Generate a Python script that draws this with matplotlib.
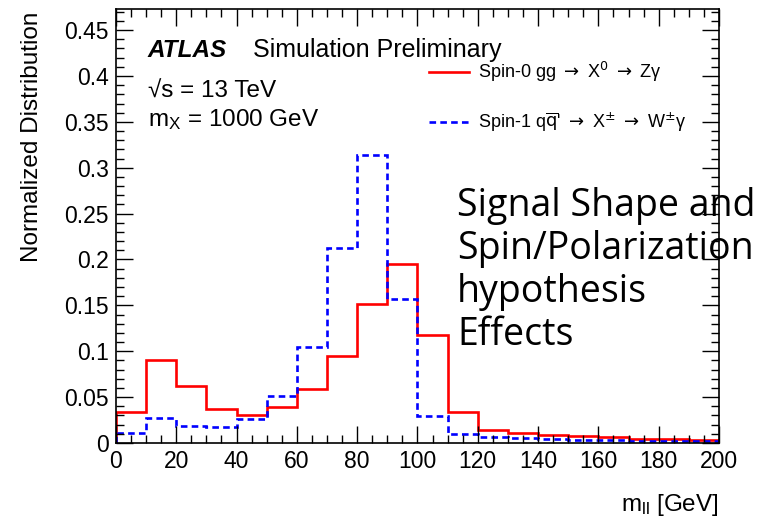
import numpy as np
import matplotlib.pyplot as plt
from matplotlib.font_manager import FontProperties
from matplotlib.ticker import MultipleLocator, FuncFormatter

plt.rcParams['font.family'] = ['Liberation Sans', 'DejaVu Sans']
plt.rcParams['mathtext.fontset'] = 'custom'
plt.rcParams['mathtext.rm'] = 'Liberation Sans'
plt.rcParams['mathtext.it'] = 'Liberation Sans:italic'

# m_ll binning (GeV) and normalized contents
edges = np.arange(0, 201, 10)
spin0 = [0.034, 0.090, 0.062, 0.037, 0.031, 0.039, 0.059, 0.095, 0.152, 0.195,
         0.118, 0.034, 0.0145, 0.011, 0.009, 0.0073, 0.0062, 0.0048, 0.004, 0.0034]
spin1 = [0.011, 0.027, 0.0185, 0.017, 0.0265, 0.051, 0.105, 0.212, 0.314, 0.157,
         0.029, 0.0094, 0.0062, 0.005, 0.004, 0.0036, 0.003, 0.0025, 0.0022, 0.0018]

fig = plt.figure(figsize=(7.69, 5.18), dpi=100)
ax = fig.add_axes([0.1508, 0.1448, 0.7842, 0.8378])

ax.stairs(spin0, edges, color='#ff0000', lw=1.9,
          label='Spin-0 gg $\\rightarrow$ X$^{\\mathrm{0}}$ $\\rightarrow$ Zγ')
ax.stairs(spin1, edges, color='#0000ff', lw=1.9, linestyle=(0, (2.5, 1.6)),
          label="Spin-1 q$\\overline{\\mathrm{q}}$' $\\rightarrow$ X$^{\\pm}$ $\\rightarrow$ W$^{\\pm}$γ")

ax.set_xlim(0, 200)
ax.set_ylim(0, 0.473)
ax.xaxis.set_major_locator(MultipleLocator(20))
ax.xaxis.set_minor_locator(MultipleLocator(5))
ax.yaxis.set_major_locator(MultipleLocator(0.05))
ax.yaxis.set_minor_locator(MultipleLocator(0.01))
ax.yaxis.set_major_formatter(FuncFormatter(lambda v, p: '%g' % round(v, 3)))
ax.tick_params(which='both', direction='in', top=True, right=True, labelsize=16.5)
ax.tick_params(which='major', length=12, width=1)
ax.tick_params(which='minor', length=6, width=1)
ax.tick_params(axis='x', pad=5)
ax.tick_params(axis='y', pad=5)

for s in ax.spines.values():
    s.set_linewidth(1.2)

legfont = FontProperties(family=['Liberation Sans', 'DejaVu Sans'], size=13,
                         math_fontfamily='dejavusans')
ax.legend(loc='upper left', bbox_to_anchor=(0.492, 0.92), frameon=False,
          prop=legfont, handlelength=2.2, handletextpad=0.5, labelspacing=1.5)

ax.text(0.053, 0.905, 'ATLAS', transform=ax.transAxes, fontsize=17.5,
        fontweight='bold', fontstyle='italic', va='center')
ax.text(0.227, 0.905, 'Simulation Preliminary', transform=ax.transAxes,
        fontsize=18, va='center')
ax.text(0.053, 0.81, '√s = 13 TeV', transform=ax.transAxes,
        fontsize=17.5, va='center')
ax.text(0.053, 0.745, 'm$_{\\mathrm{X}}$ = 1000 GeV', transform=ax.transAxes,
        fontsize=17.5, va='center')

fig.text(457 / 769, 1 - 187 / 518,
         'Signal Shape and\nSpin/Polarization\nhypothesis\nEffects',
         family='Open Sans', fontsize=27, va='top', ha='left', linespacing=1.17)

fig.text(32 / 769, 1 - 12 / 518, 'Normalized Distribution', rotation=90,
         ha='center', va='top', fontsize=17.5)
fig.text(719 / 769, 1 - 505 / 518, 'm$_{\\mathrm{ll}}$ [GeV]', ha='right',
         va='center', fontsize=17.5)

fig.savefig('out.png', dpi=100)
